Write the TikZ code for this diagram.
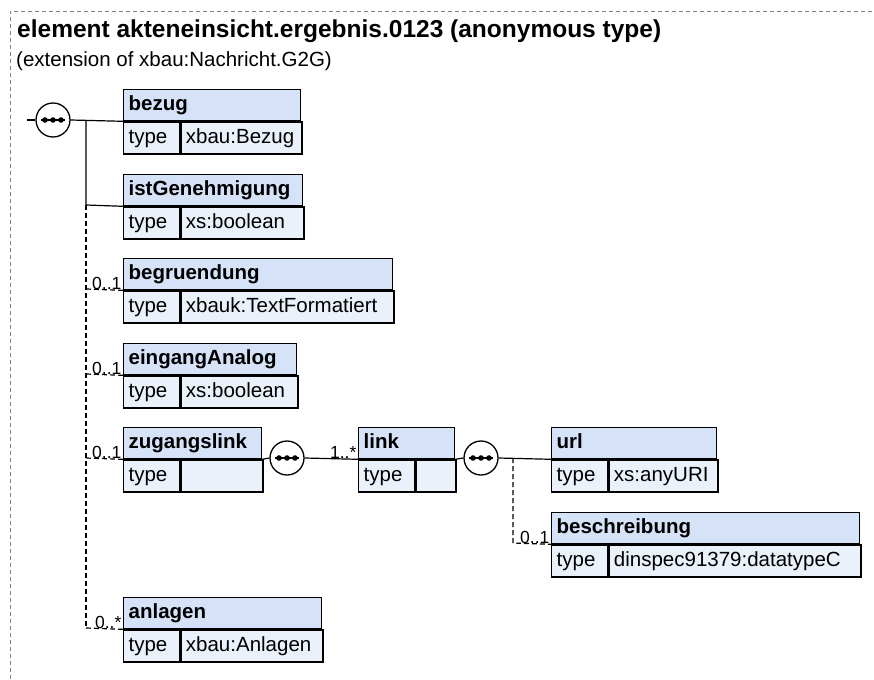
\documentclass[tikz,border=0pt]{standalone}
\usepackage{fontspec}
\setmainfont{Liberation Sans}
\usetikzlibrary{positioning}
\definecolor{hdrblue}{RGB}{213,226,247}
\definecolor{bodyblue}{RGB}{234,241,251}
\tikzset{
  hdrbox/.style={
    draw, line width=1.3pt, fill=hdrblue,
    minimum height=31pt, inner xsep=5pt, inner ysep=0pt,
    text height=15pt, text depth=4.5pt,
    anchor=north west, align=left,
    font=\fontsize{20.5}{22}\selectfont\bfseries
  },
  cellbox/.style={
    draw, line width=1.3pt, fill=bodyblue,
    minimum height=32pt, inner xsep=5pt, inner ysep=0pt,
    text height=15pt, text depth=4.5pt,
    anchor=north west, align=left,
    font=\fontsize{20.5}{22}\selectfont
  },
  seqcirc/.style={
    circle, draw, line width=1.3pt, fill=white,
    minimum size=34pt, inner sep=0pt
  },
  conn/.style={line width=1.2pt},
  optconn/.style={line width=1.2pt, dashed, dash pattern=on 5pt off 3pt},
  occ/.style={
    anchor=south east, inner xsep=1pt, inner ysep=0pt,
    font=\fontsize{17.5}{19}\selectfont
  }
}
% element box: name, x, y, width, title, type
\newcommand{\xsdbox}[6]{%
  \node[hdrbox, minimum width=#4pt, text width=#4pt-10pt] (#1) at (#2,#3) {#5};
  \node[cellbox, minimum width=56pt, text width=46pt] (#1-t) at (#1.south west) {type};
  \node[cellbox, minimum width=#4pt-56pt, text width=#4pt-66pt] (#1-v) at (#1-t.north east) {#6};
}
% sequence compositor: name, x, y
\newcommand{\seqsym}[3]{%
  \node[seqcirc] (#1) at (#2,#3) {};
  \draw[line width=1.2pt] ([xshift=-12pt]#1.center) -- ([xshift=12pt]#1.center);
  \foreach \dx in {-8,0,8}
    \fill ([xshift=\dx pt]#1.center) circle (2.8pt);
}

\begin{document}
\begin{tikzpicture}[x=1pt, y=-1pt]
  \useasboundingbox (0,0) rectangle (874,679);

  % Rahmen
  \draw[gray, dashed, dash pattern=on 4pt off 3pt, line width=0.7pt]
    (10,679) -- (10,11) -- (874,11);

  % Titel
  \node[anchor=base west, inner sep=0pt, font=\fontsize{24.5}{28}\selectfont\bfseries]
    (title) at (17,38) {element akteneinsicht.ergebnis.0123 (anonymous type)};
  \node[anchor=base west, inner sep=0pt, font=\fontsize{20.5}{23}\selectfont]
    (subtitle) at (16,67) {(extension of xbau:Nachricht.G2G)};

  % Elemente
  \xsdbox{bezug}{123}{89}{177}{bezug}{xbau:Bezug}
  \xsdbox{istgen}{123}{174}{179}{istGenehmigung}{xs:boolean}
  \xsdbox{begr}{123}{258}{269}{begruendung}{xbauk:TextFormatiert}
  \xsdbox{eingang}{123}{343}{173}{eingangAnalog}{xs:boolean}
  \xsdbox{zugang}{123}{427}{138}{zugangslink}{}
  \xsdbox{link}{358}{427}{96}{link}{}
  \xsdbox{url}{551}{427}{165}{url}{xs:anyURI}
  \xsdbox{beschr}{551}{512}{308}{beschreibung}{dinspec91379:datatypeC}
  \xsdbox{anlagen}{123}{597}{198}{anlagen}{xbau:Anlagen}

  % Kompositoren
  \seqsym{seqA}{53}{120}
  \seqsym{seqB}{287}{458}
  \seqsym{seqC}{481}{458}

  % Stamm
  \coordinate (in) at (27,120);
  \coordinate (t1) at (86,120);
  \coordinate (t2) at (86,205);
  \coordinate (t3) at (86,289);
  \coordinate (t4) at (86,374);
  \coordinate (t5) at (86,458);
  \coordinate (t6) at (86,628);
  \draw[conn] (in) -- (seqA.west);
  \draw[conn] (seqA.east) -- (bezug.south west);
  \draw[conn] (t1) -- (t2) -- (istgen.south west);
  \draw[optconn] (t2) -- (t6);
  \draw[optconn] (t3) -- (begr.south west) node[occ] {0..1};
  \draw[optconn] (t4) -- (eingang.south west) node[occ] {0..1};
  \draw[optconn] (t5) -- (zugang.south west) node[occ] {0..1};
  \draw[optconn] (t6) -- (anlagen.south west) node[occ] {0..*};

  % zugangslink -> link
  \draw[conn] (zugang.south east) -- (seqB.west);
  \draw[conn] (seqB.east) -- (link.south west) node[occ] {1..*};

  % link -> url, beschreibung
  \coordinate (b1) at (513,458);
  \coordinate (b2) at (513,543);
  \draw[conn] (link.south east) -- (seqC.west);
  \draw[conn] (seqC.east) -- (url.south west);
  \draw[optconn] (b1) -- (b2) -- (beschr.south west) node[occ] {0..1};
\end{tikzpicture}
\end{document}
